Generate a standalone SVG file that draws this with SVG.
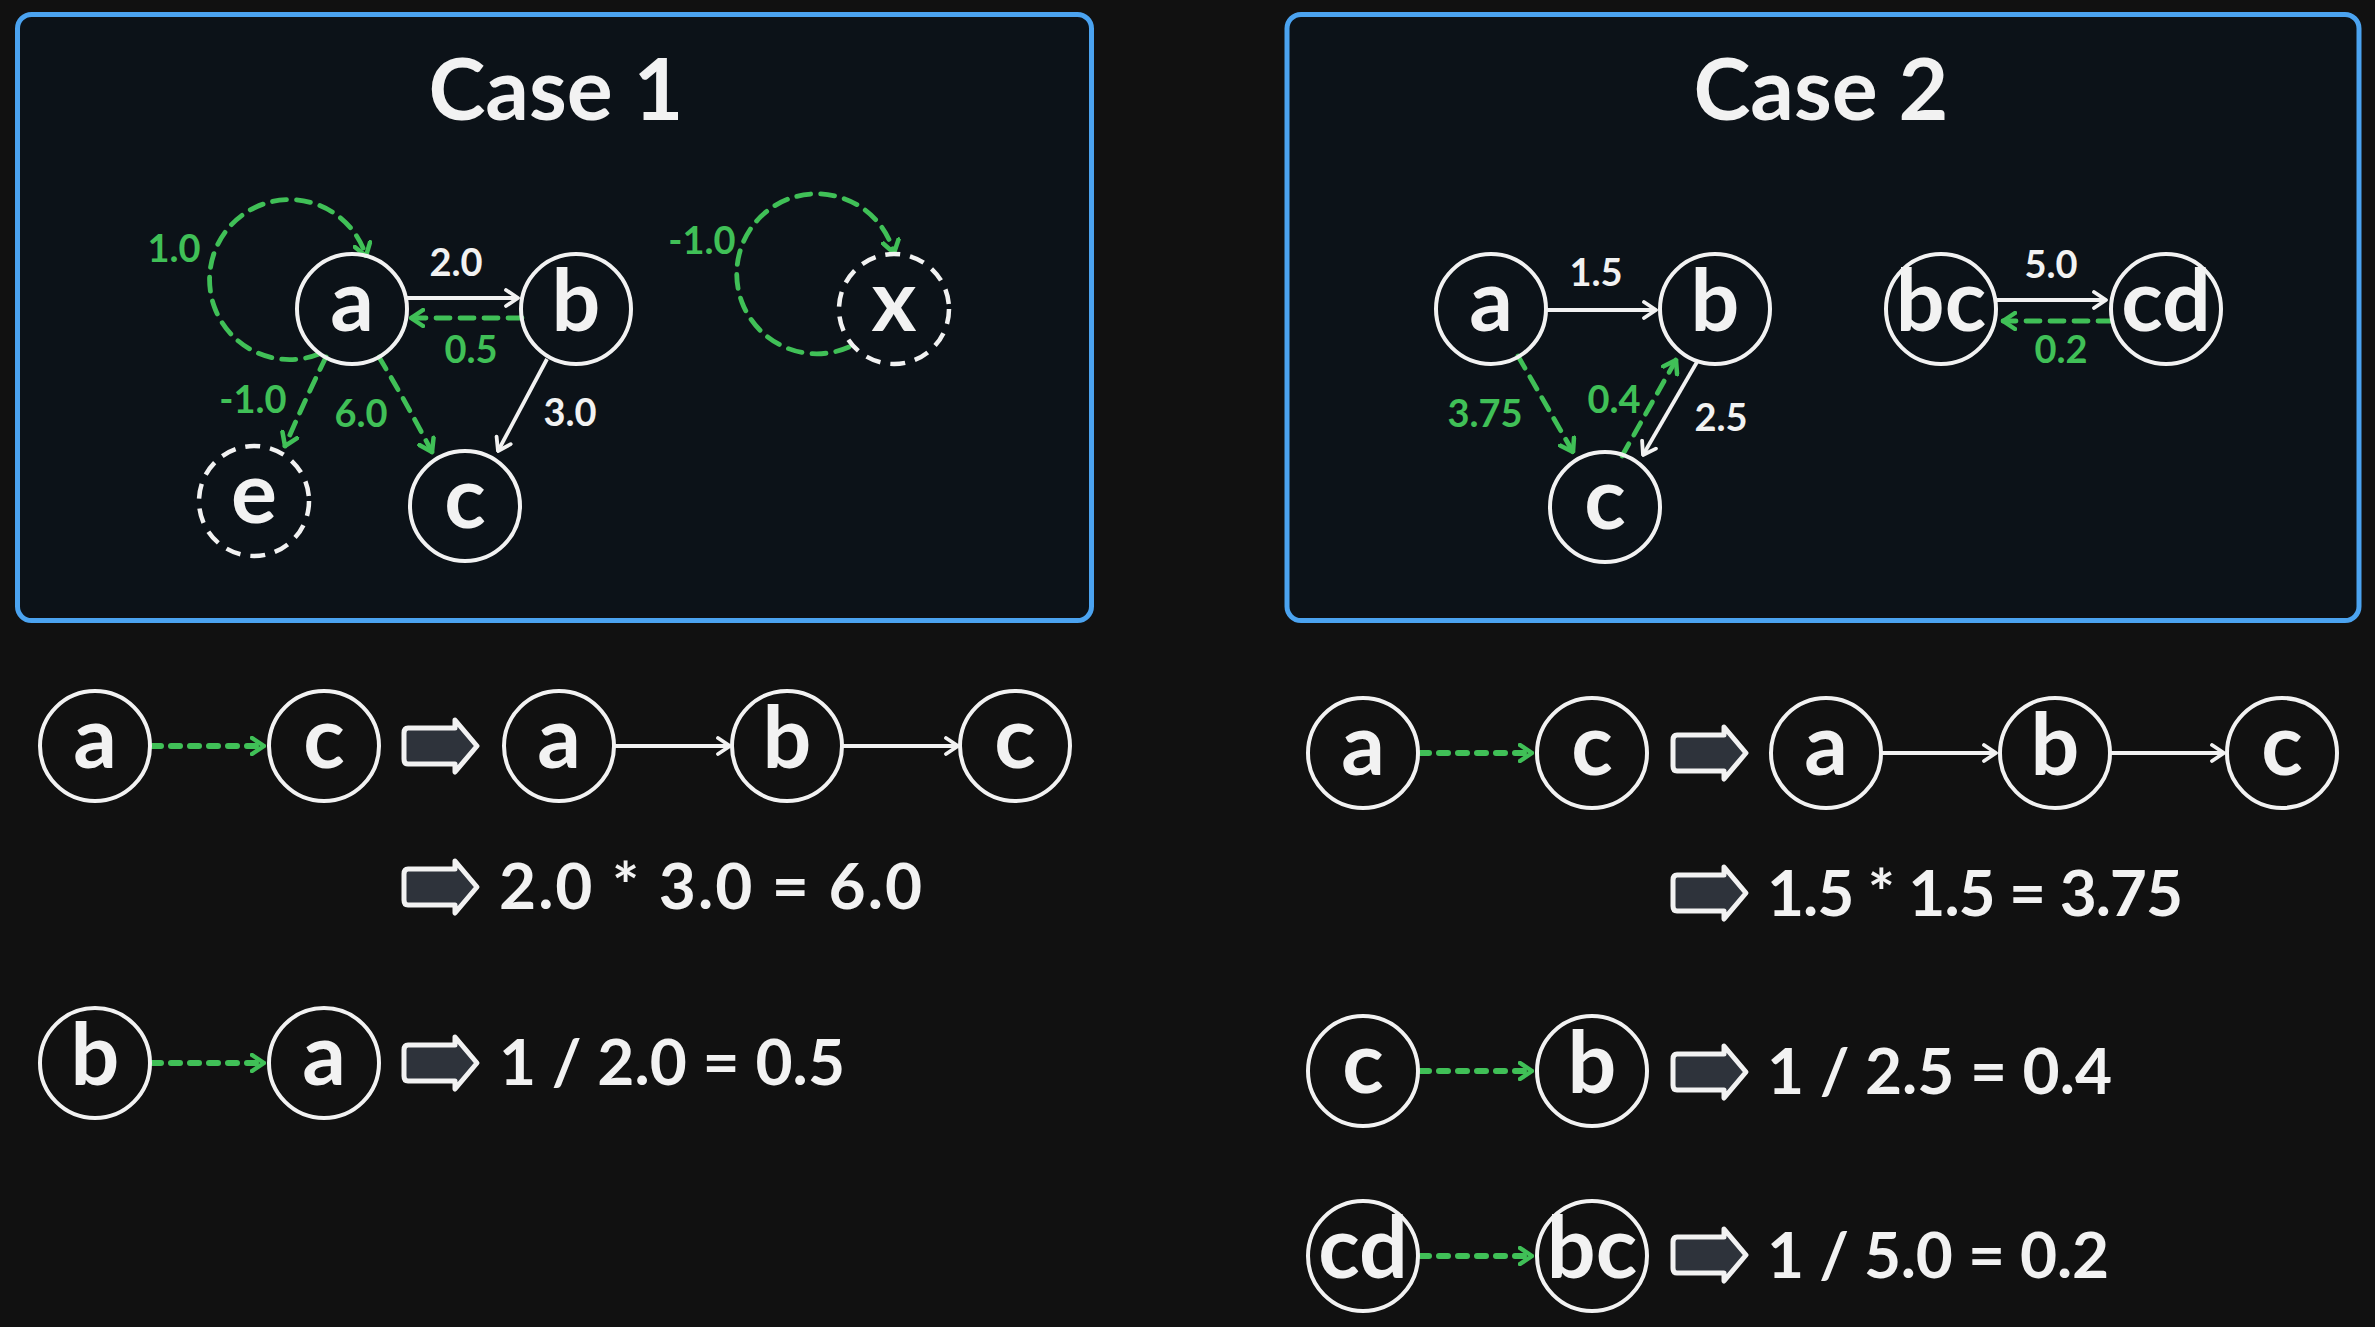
<svg xmlns="http://www.w3.org/2000/svg" width="2375" height="1327" viewBox="0 0 2375 1327">
<defs>
<style>
.panel{fill:#0c1218;stroke:#4ba3f0;stroke-width:5}
.n{fill:none;stroke:#f2f2f2;stroke-width:4}
.nd{fill:none;stroke:#f2f2f2;stroke-width:4.5;stroke-dasharray:15 10}
.t{font-family:Lato,"Open Sans",sans-serif;font-weight:700;fill:#f2f2f2;text-anchor:middle}
.nt{font-size:86px}
.title{font-size:86px}
.lbl{font-size:38px;font-family:Lato,"Open Sans",sans-serif;font-weight:700;text-anchor:middle}
.lw{fill:#f2f2f2}
.lg{fill:#40c057}
.eq{font-family:Lato,"Open Sans",sans-serif;font-weight:700;fill:#f2f2f2;font-size:64px}
.w{fill:none;stroke:#f2f2f2;stroke-width:3.8;marker-end:url(#aw)}
.g{fill:none;stroke:#40c057;stroke-width:4.8;stroke-dasharray:14 10;stroke-linecap:round;marker-end:url(#ag)}
.gb{fill:none;stroke:#40c057;stroke-width:6;stroke-dasharray:9 10;stroke-linecap:round;marker-end:url(#ag)}
</style>
<marker id="aw" viewBox="0 0 16 20" refX="14" refY="10" markerWidth="16" markerHeight="20" markerUnits="userSpaceOnUse" orient="auto"><path d="M2,2 L14,10 L2,18" fill="none" stroke="#f2f2f2" stroke-width="3.8" stroke-linecap="round" stroke-linejoin="round"/></marker>
<marker id="ag" viewBox="0 0 16 20" refX="14" refY="10" markerWidth="16" markerHeight="20" markerUnits="userSpaceOnUse" orient="auto"><path d="M2,2 L14,10 L2,18" fill="none" stroke="#40c057" stroke-width="4.5" stroke-linecap="round" stroke-linejoin="round"/></marker>
<path id="blk" d="M5,-18 L52,-18 L52,-26 L74,0 L52,26 L52,18 L5,18 Q1,18 1,13 L1,-13 Q1,-18 5,-18 Z" fill="#2e333b" stroke="#f2f2f2" stroke-width="5" stroke-linejoin="round"/>
</defs>
<rect x="0" y="0" width="2375" height="1327" fill="#111111"/>
<rect class="panel" x="17.5" y="14.5" width="1074" height="606" rx="14"/>
<rect class="panel" x="1287" y="14.5" width="1072" height="606" rx="14"/>
<text class="t title" x="556" y="120">Case 1</text>
<text class="t title" x="1821" y="120">Case 2</text>

<g id="connectors">
<!-- case 1 -->
<path class="w" d="M407,298 L518,298"/>
<path class="g" d="M522,318 L411,318"/>
<path class="w" d="M547,359 L498,451"/>
<path class="g" d="M379,357 Q406,402 432,452"/>
<path class="g" d="M326,357 Q305,400 285,446"/>
<path class="g" d="M319,354 A80,80 0 1 1 366,256"/>
<path class="g" d="M849,347 A80,80 0 1 1 894,253"/>
<!-- case 2 -->
<path class="w" d="M1546,310 L1656,310"/>
<path class="g" d="M1518,356 L1573,452"/>
<path class="g" d="M1622,456 L1676,360"/>
<path class="w" d="M1697,362 L1643,455"/>
<path class="w" d="M1996,300 L2106,300"/>
<path class="g" d="M2112,321 L2003,321"/>
<!-- bottom case 1 -->
<path class="gb" d="M152,746 L264,746"/>
<path class="w" d="M614,746 L730,746"/>
<path class="w" d="M842,746 L958,746"/>
<path class="gb" d="M152,1063 L264,1063"/>
<!-- bottom case 2 -->
<path class="gb" d="M1420,753 L1532,753"/>
<path class="w" d="M1881,753 L1996,753"/>
<path class="w" d="M2110,753 L2224,753"/>
<path class="gb" d="M1420,1071 L1532,1071"/>
<path class="gb" d="M1420,1256 L1532,1256"/>
</g>

<g id="edge-labels">
<text class="lbl lw" x="456" y="276">2.0</text>
<text class="lbl lg" x="471" y="363">0.5</text>
<text class="lbl lw" x="570" y="426">3.0</text>
<text class="lbl lg" x="361" y="427">6.0</text>
<text class="lbl lg" x="253" y="413">-1.0</text>
<text class="lbl lg" x="174" y="262">1.0</text>
<text class="lbl lg" x="702" y="254">-1.0</text>
<text class="lbl lw" x="1596" y="286">1.5</text>
<text class="lbl lg" x="1485" y="427">3.75</text>
<text class="lbl lg" x="1614" y="413">0.4</text>
<text class="lbl lw" x="1721" y="431">2.5</text>
<text class="lbl lw" x="2051" y="278">5.0</text>
<text class="lbl lg" x="2061" y="363">0.2</text>
</g>

<!-- case 1 graph nodes -->
<g id="c1-a"><circle class="n" cx="352" cy="309" r="55"/><text class="t nt" x="352" y="331">a</text></g>
<g id="c1-b"><circle class="n" cx="576" cy="309" r="55"/><text class="t nt" x="576" y="331">b</text></g>
<g id="c1-c"><circle class="n" cx="465" cy="506" r="55"/><text class="t nt" x="465" y="528">c</text></g>
<g id="c1-e"><circle class="nd" cx="254" cy="501" r="55"/><text class="t nt" x="254" y="523">e</text></g>
<g id="c1-x"><circle class="nd" cx="894" cy="309" r="55"/><text class="t nt" x="894" y="331">x</text></g>
<!-- case 2 graph nodes -->
<g id="c2-a"><circle class="n" cx="1491" cy="309" r="55"/><text class="t nt" x="1491" y="331">a</text></g>
<g id="c2-b"><circle class="n" cx="1715" cy="309" r="55"/><text class="t nt" x="1715" y="331">b</text></g>
<g id="c2-c"><circle class="n" cx="1605" cy="507" r="55"/><text class="t nt" x="1605" y="529">c</text></g>
<g id="c2-bc"><circle class="n" cx="1941" cy="309" r="55"/><text class="t nt" x="1941" y="331">bc</text></g>
<g id="c2-cd"><circle class="n" cx="2166" cy="309" r="55"/><text class="t nt" x="2166" y="331">cd</text></g>

<!-- bottom case 1 -->
<g id="b1-r1-a"><circle class="n" cx="95" cy="746" r="55"/><text class="t nt" x="95" y="768">a</text></g>
<g id="b1-r1-c"><circle class="n" cx="324" cy="746" r="55"/><text class="t nt" x="324" y="768">c</text></g>
<g id="b1-r1-icon"><use href="#blk" x="403" y="746"/></g>
<g id="b1-r1-a2"><circle class="n" cx="559" cy="746" r="55"/><text class="t nt" x="559" y="768">a</text></g>
<g id="b1-r1-b"><circle class="n" cx="787" cy="746" r="55"/><text class="t nt" x="787" y="768">b</text></g>
<g id="b1-r1-c2"><circle class="n" cx="1015" cy="746" r="55"/><text class="t nt" x="1015" y="768">c</text></g>
<g id="b1-r2"><use href="#blk" x="403" y="887"/><text class="eq" x="499" y="909" textLength="423" lengthAdjust="spacing">2.0 * 3.0 = 6.0</text></g>
<g id="b1-r3-b"><circle class="n" cx="95" cy="1063" r="55"/><text class="t nt" x="95" y="1085">b</text></g>
<g id="b1-r3-a"><circle class="n" cx="324" cy="1063" r="55"/><text class="t nt" x="324" y="1085">a</text></g>
<g id="b1-r3"><use href="#blk" x="403" y="1063"/><text class="eq" x="499" y="1085" textLength="346" lengthAdjust="spacing">1 / 2.0 = 0.5</text></g>

<!-- bottom case 2 -->
<g id="b2-r1-a"><circle class="n" cx="1363" cy="753" r="55"/><text class="t nt" x="1363" y="775">a</text></g>
<g id="b2-r1-c"><circle class="n" cx="1592" cy="753" r="55"/><text class="t nt" x="1592" y="775">c</text></g>
<g id="b2-r1-icon"><use href="#blk" x="1672" y="753"/></g>
<g id="b2-r1-a2"><circle class="n" cx="1826" cy="753" r="55"/><text class="t nt" x="1826" y="775">a</text></g>
<g id="b2-r1-b"><circle class="n" cx="2055" cy="753" r="55"/><text class="t nt" x="2055" y="775">b</text></g>
<g id="b2-r1-c2"><circle class="n" cx="2282" cy="753" r="55"/><text class="t nt" x="2282" y="775">c</text></g>
<g id="b2-r2"><use href="#blk" x="1672" y="893"/><text class="eq" x="1767" y="916" textLength="416" lengthAdjust="spacing">1.5 * 1.5 = 3.75</text></g>
<g id="b2-r3-c"><circle class="n" cx="1363" cy="1071" r="55"/><text class="t nt" x="1363" y="1093">c</text></g>
<g id="b2-r3-b"><circle class="n" cx="1592" cy="1071" r="55"/><text class="t nt" x="1592" y="1093">b</text></g>
<g id="b2-r3"><use href="#blk" x="1672" y="1072"/><text class="eq" x="1767" y="1094" textLength="345" lengthAdjust="spacing">1 / 2.5 = 0.4</text></g>
<g id="b2-r4-cd"><circle class="n" cx="1363" cy="1256" r="55"/><text class="t nt" x="1363" y="1278">cd</text></g>
<g id="b2-r4-bc"><circle class="n" cx="1592" cy="1256" r="55"/><text class="t nt" x="1592" y="1278">bc</text></g>
<g id="b2-r4"><use href="#blk" x="1672" y="1255"/><text class="eq" x="1767" y="1278" textLength="342" lengthAdjust="spacing">1 / 5.0 = 0.2</text></g>
</svg>
